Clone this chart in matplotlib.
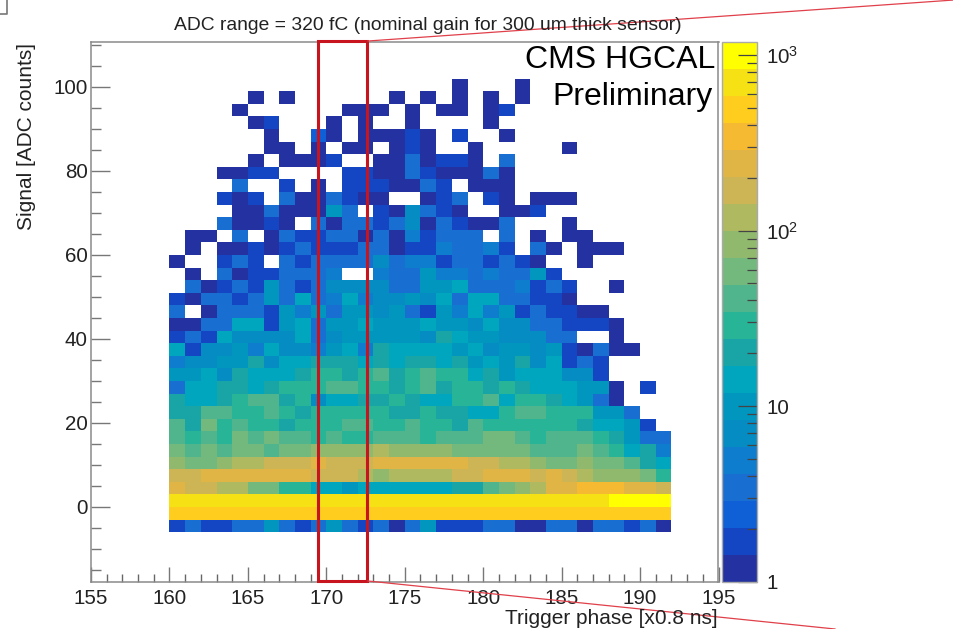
import numpy as np
import matplotlib
matplotlib.use('Agg')
import matplotlib.pyplot as plt
from matplotlib.colors import ListedColormap, LogNorm
from matplotlib.lines import Line2D
from matplotlib.patches import Rectangle
from matplotlib.ticker import LogLocator, MultipleLocator

plt.rcParams['font.family'] = ['Liberation Sans', 'DejaVu Sans']

W, H = 954, 629

# colours of the 20 palette steps, bottom of the colour bar first
band_rgb = [(35, 50, 160), (20, 70, 195), (15, 95, 215), (25, 110, 210), (15, 125, 205),
            (5, 140, 195), (0, 150, 190), (0, 165, 190), (25, 165, 165), (40, 180, 150),
            (80, 180, 140), (115, 185, 125), (145, 185, 110), (175, 185, 95), (205, 180, 85),
            (225, 180, 70), (245, 185, 50), (255, 205, 30), (245, 225, 20), (255, 255, 0)]
# typical count for each step
band_counts = [1, 2, 2.5, 3, 5, 7, 10, 14, 20, 29, 41, 59, 84, 120, 170, 240, 350, 500, 700, 1000]

x_edges = list(range(160, 193))
y_edges = list(range(102, -7, -3))

# palette step read per cell, top row (99-102) first, e = empty
e = -1
cells = [
    [e, e, e, e, e, e, e, e, e, e, e, e, e, e, e, e, e, e, 0, e, e, e, 0, e, e, e, e, e, e, e, e, e],
    [e, e, e, e, e, 0, e, 0, e, e, e, e, e, e, 0, e, 0, e, 0, e, 0, e, 0, e, e, e, e, e, e, e, e, e],
    [e, e, e, e, 0, e, e, e, e, e, e, 0, 0, 0, e, 0, e, 0, 0, e, 0, 1, e, e, e, e, e, e, e, e, e, e],
    [e, e, e, e, e, 0, 1, e, e, e, 0, e, 0, e, e, 0, e, e, e, e, 0, e, e, e, e, e, e, e, e, e, e, e],
    [e, e, e, e, e, e, 0, e, e, 2, 0, e, 0, 0, 0, 1, 0, e, 1, e, e, 0, e, e, e, e, e, e, e, e, e, e],
    [e, e, e, e, e, e, 0, 0, e, 0, e, 0, 0, e, 0, 1, 0, e, e, 0, e, e, e, e, e, 0, e, e, e, e, e, e],
    [e, e, e, e, e, 0, e, 0, 0, 0, 1, e, e, 0, 0, 3, 0, 1, 1, 0, e, 3, e, e, e, e, e, e, e, e, e, e],
    [e, e, e, 0, 0, 1, 1, e, e, e, e, 1, 1, 0, 0, 3, 1, 0, 0, 0, 3, 0, e, e, e, e, e, e, e, e, e, e],
    [e, e, e, e, 3, e, e, 1, e, 0, e, 1, 1, 1, 0, 0, 3, 1, e, 0, 0, 0, e, e, e, e, e, e, e, e, e, e],
    [e, e, e, 1, 0, 1, e, 3, 0, 0, 3, 1, 0, 0, e, e, 0, 1, 3, e, 1, 0, e, 0, 0, 0, e, e, e, e, e, e],
    [e, e, e, e, 0, 0, 3, 0, 0, 0, 6, 3, e, 1, 0, 5, 3, 1, 0, e, e, 0, 0, 1, e, e, e, e, e, e, e, e],
    [e, e, e, 3, 0, 0, 1, 0, e, 3, 0, 3, 3, 1, 3, 5, 0, 3, 1, 0, 0, 3, e, e, e, 0, e, e, e, e, e, e],
    [e, 0, 0, e, 3, e, 0, 3, 1, 1, 3, 3, 0, 3, 0, 4, 1, 3, 3, 3, e, 3, e, 0, e, 0, 0, e, e, e, e, e],
    [e, 0, e, 0, 0, 1, 0, 1, 3, 1, 1, 1, 3, 3, 0, 1, 1, 4, 3, 3, 4, 1, e, 3, 0, e, 0, 0, 0, e, e, e],
    [0, e, e, 1, 3, 1, e, 3, 1, 3, 3, 3, 3, 5, 3, 4, 4, 1, 3, 3, 1, 3, 1, 0, e, e, 0, e, e, e, e, e],
    [e, 0, e, 3, 0, 1, 1, 3, 3, 3, 4, e, e, 4, 3, 3, 6, 4, 4, 3, 4, 3, 3, 6, 1, e, e, e, e, e, e, e],
    [e, 3, 0, 1, 3, 1, 6, 3, 1, 3, 5, 5, 5, 5, 3, 3, 6, 6, 7, 3, 3, 3, 4, 1, 3, 1, e, e, 0, e, e, e],
    [1, 0, 3, 3, 1, 3, 6, 3, 7, 3, 4, 7, 4, 5, 5, 6, 5, 7, 3, 7, 7, 3, 3, 1, 1, 0, e, e, e, e, e, e],
    [3, e, 0, 3, 3, 3, 1, 6, 4, 6, 3, 6, 6, 5, 6, 3, 1, 6, 4, 7, 4, 6, 1, 3, 1, 1, 0, 0, e, e, e, e],
    [0, 0, 3, 3, 7, 7, 1, 6, 7, 3, 6, 6, 7, 6, 6, 6, 7, 6, 6, 5, 7, 5, 5, 3, 3, 1, 1, 1, 0, e, e, e],
    [1, 3, 1, 7, 5, 5, 5, 5, 7, 3, 5, 6, 6, 6, 6, 6, 5, 8, 7, 6, 6, 5, 5, 5, 3, 3, e, e, 0, e, e, e],
    [7, 1, 5, 5, 6, 4, 7, 5, 5, 4, 6, 7, 4, 8, 7, 7, 7, 7, 6, 7, 5, 6, 6, 5, 6, 1, 0, 3, 0, 0, e, e],
    [4, 5, 5, 6, 6, 8, 5, 7, 7, 8, 8, 8, 7, 8, 7, 8, 8, 7, 8, 6, 7, 6, 8, 5, 7, 1, 3, 1, e, e, e, e],
    [6, 6, 7, 5, 8, 7, 7, 7, 8, 9, 9, 8, 9, 10, 8, 9, 10, 9, 9, 7, 8, 6, 7, 7, 7, 5, 5, 1, e, e, e, e],
    [3, 7, 7, 8, 8, 7, 8, 9, 9, 9, 10, 10, 9, 9, 8, 9, 10, 8, 9, 9, 8, 9, 8, 7, 7, 7, 6, 6, 0, e, 1, e],
    [8, 7, 7, 8, 9, 10, 10, 8, 9, 5, 7, 7, 8, 8, 9, 8, 7, 7, 9, 9, 10, 7, 9, 9, 8, 7, 6, 3, 0, e, e, e],
    [8, 8, 10, 10, 9, 9, 10, 9, 8, 9, 9, 9, 9, 9, 8, 8, 9, 8, 8, 7, 7, 9, 10, 10, 9, 9, 9, 6, 6, 3, e, e],
    [10, 8, 11, 9, 10, 9, 9, 8, 9, 9, 9, 10, 10, 9, 9, 10, 9, 9, 8, 10, 9, 9, 9, 9, 9, 9, 8, 7, 7, 6, 1, e],
    [10, 9, 10, 9, 11, 10, 11, 10, 10, 9, 10, 9, 9, 10, 10, 10, 9, 10, 10, 10, 11, 11, 10, 9, 10, 10, 10, 9, 8, 6, 3, 3],
    [11, 10, 11, 10, 11, 11, 10, 11, 11, 12, 12, 12, 12, 13, 12, 12, 12, 12, 11, 11, 11, 11, 11, 10, 10, 10, 11, 10, 9, 7, 8, 4],
    [12, 11, 11, 12, 13, 13, 14, 14, 14, 15, 14, 14, 14, 15, 15, 15, 15, 15, 15, 14, 14, 13, 13, 12, 11, 11, 12, 11, 11, 10, 8, 7],
    [14, 14, 15, 15, 15, 15, 15, 15, 15, 14, 14, 14, 13, 12, 13, 13, 13, 13, 14, 14, 15, 15, 15, 14, 15, 14, 13, 12, 12, 12, 11, 9],
    [15, 14, 14, 13, 13, 11, 11, 9, 9, 7, 7, 6, 7, 7, 7, 7, 7, 7, 8, 8, 10, 11, 12, 13, 15, 15, 16, 16, 16, 15, 15, 14],
    [18, 18, 18, 18, 18, 18, 18, 18, 18, 18, 18, 18, 18, 18, 18, 18, 18, 18, 18, 18, 18, 18, 18, 18, 18, 18, 18, 18, 19, 19, 19, 19],
    [17, 17, 17, 17, 17, 17, 17, 17, 17, 17, 17, 17, 17, 17, 17, 17, 17, 17, 17, 17, 17, 17, 17, 17, 17, 17, 17, 17, 17, 17, 17, 17],
    [1, 3, 1, 1, 3, 3, 6, 3, 1, 3, 6, 3, 1, 3, 0, 3, 6, 1, 1, 1, 3, 3, 0, 0, 3, 3, 0, 3, 3, 1, 3, 0],
]

title = 'ADC range = 320 fC (nominal gain for 300 um thick sensor)'
x_ticks = [155, 160, 165, 170, 175, 180, 185, 190, 195]
y_ticks = [0, 20, 40, 60, 80, 100]
z_ticks = [1, 10, 100, 1000]
z_labels = ['1', '10', r'$\mathregular{10^{2}}$', r'$\mathregular{10^{3}}$']


def fig_box(left, top, right, bottom):
    return [left / W, 1 - bottom / H, (right - left) / W, (bottom - top) / H]


def get_counts():
    cell_arr = np.array(cells)
    counts = np.array(band_counts, dtype=float)[np.clip(cell_arr, 0, None)]
    counts[cell_arr < 0] = np.nan
    return np.ma.masked_invalid(counts)


def style_ticks(ax):
    grey = '#8a8a8a'
    for spine in ax.spines.values():
        spine.set_color(grey)
        spine.set_linewidth(1.1)
    ax.xaxis.set_major_locator(MultipleLocator(5))
    ax.xaxis.set_minor_locator(MultipleLocator(1))
    ax.yaxis.set_major_locator(MultipleLocator(20))
    ax.yaxis.set_minor_locator(MultipleLocator(5))
    ax.tick_params(axis='x', which='major', direction='in', length=11, width=1, color='#777777',
                   labelsize=14.8, labelcolor='#222222', pad=5.5)
    ax.tick_params(axis='x', which='minor', direction='in', length=5.5, width=1, color='#666666')
    ax.tick_params(axis='y', which='major', direction='in', length=14, width=1, color='#777777',
                   labelsize=14.8, labelcolor='#222222', pad=2.5)
    ax.tick_params(axis='y', which='minor', direction='in', length=7, width=1, color='#777777')


def main():
    fig = plt.figure(figsize=(W / 100, H / 100), dpi=100)
    ax = fig.add_axes(fig_box(91, 42, 718.5, 581.7))
    cax = fig.add_axes(fig_box(721.7, 42, 757, 581.7))

    cmap = ListedColormap(np.array(band_rgb) / 255)
    norm = LogNorm(vmin=1, vmax=1186)
    mesh = ax.pcolormesh(x_edges, y_edges, get_counts(), cmap=cmap, norm=norm)

    ax.set_xlim(155, 195)
    ax.set_ylim(-17.8, 110.7)
    ax.set_xticks(x_ticks)
    ax.set_yticks(y_ticks)
    style_ticks(ax)

    cb = fig.colorbar(mesh, cax=cax)
    cb.set_ticks(z_ticks, labels=z_labels)
    cax.yaxis.set_minor_locator(LogLocator(base=10, subs=range(2, 10)))
    cax.tick_params(which='major', direction='in', length=14, width=0.9, color='#444444',
                    labelsize=14.8, labelcolor='#222222', pad=6.5)
    cax.tick_params(which='minor', direction='in', length=7, width=0.9, color='#444444')
    cb.outline.set_edgecolor('#aaaaaa')
    cb.outline.set_linewidth(1)

    fig.text(427.5 / W, 1 - 25 / H, title, ha='center', va='center', fontsize=13.85, color='#222222')
    fig.text(27 / W, 1 - 136 / H, 'Signal [ADC counts]', rotation=90, ha='center', va='center',
             fontsize=15, color='#222222')
    fig.text(718 / W, 1 - 619 / H, 'Trigger phase [x0.8 ns]', ha='right', va='center',
             fontsize=15, color='#222222')
    fig.text(715 / W, 1 - 60 / H, 'CMS HGCAL', ha='right', va='center', fontsize=23, color='black')
    fig.text(713 / W, 1 - 97 / H, 'Preliminary', ha='right', va='center', fontsize=23, color='black')

    # red selection box and the zoom lines leaving it
    fig.add_artist(Rectangle((318 / W, 1 - 581 / H), 49.5 / W, 540 / H, transform=fig.transFigure,
                             fill=False, edgecolor='#c8141e', linewidth=2.2))
    fig.add_artist(Line2D([368 / W, 954 / W], [1 - 41 / H, 1 - 0 / H], color='#e0404a', linewidth=0.9))
    fig.add_artist(Line2D([368 / W, 835 / W], [1 - 581 / H, 1 - 629 / H], color='#e0404a', linewidth=0.9))
    # corner of something else in the screenshot, top left
    fig.add_artist(Line2D([0, 7 / W, 7 / W], [1 - 14 / H, 1 - 14 / H, 1], color='#777777', linewidth=1.2))

    fig.savefig('out.png', dpi=100)


if __name__ == "__main__":
    main()
